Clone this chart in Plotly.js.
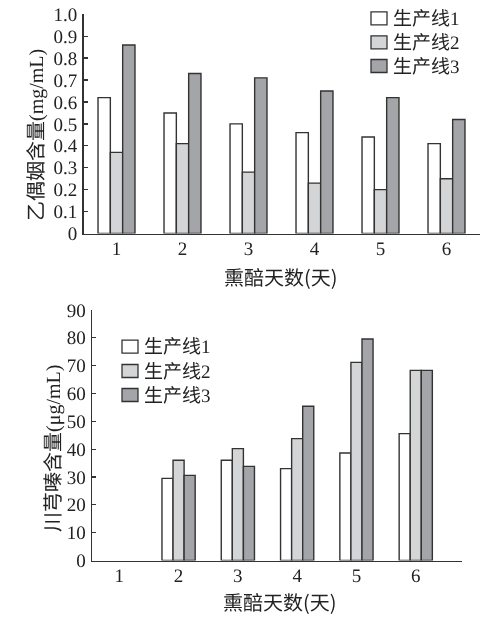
<!DOCTYPE html>
<html>
<head>
<meta charset="utf-8">
<script src="https://cdn.plot.ly/plotly-3.0.1.min.js"></script>
<style>
  html, body { margin: 0; padding: 0; background: #fff; }
  #chart { width: 504px; height: 620px; will-change: transform; }
  #chart text { -webkit-font-smoothing: antialiased; text-rendering: geometricPrecision; }
</style>
</head>
<body>
<div id="chart"></div>
<script>
// Fumigation days (x categories)
const days = [1, 2, 3, 4, 5, 6];
const dayLabels = ['1', '2', '3', '4', '5', '6'];
const seriesNames = ['生产线1', '生产线2', '生产线3'];

// Acetoin content, mg/mL
const acetoinLine1 = [0.62, 0.55, 0.50, 0.46, 0.44, 0.41];
const acetoinLine2 = [0.37, 0.41, 0.28, 0.23, 0.20, 0.25];
const acetoinLine3 = [0.86, 0.73, 0.71, 0.65, 0.62, 0.52];

// Tetramethylpyrazine content, µg/mL (none detected on day 1)
const tmpLine1 = [null, 29.5, 36.0, 33.0, 38.6, 45.6];
const tmpLine2 = [null, 36.0, 40.2, 43.8, 71.2, 68.3];
const tmpLine3 = [null, 30.6, 33.8, 55.4, 79.6, 68.3];

const fills = ['#ffffff', '#d3d5d7', '#a3a5a8'];
const edge = '#333333';
const FONT = '"Liberation Serif", "Noto Sans CJK SC", serif';
const CJK = '"Noto Sans CJK SC", sans-serif';
const ink = '#222222';

function barTrace(name, y, i, xa, ya) {
  return {
    type: 'bar', name: name, x: days, y: y,
    xaxis: xa, yaxis: ya,
    marker: { color: fills[i], line: { color: edge, width: 1.4 } },
    showlegend: false, hoverinfo: 'skip'
  };
}

const traces = [
  barTrace(seriesNames[0], acetoinLine1, 0, 'x', 'y'),
  barTrace(seriesNames[1], acetoinLine2, 1, 'x', 'y'),
  barTrace(seriesNames[2], acetoinLine3, 2, 'x', 'y'),
  barTrace(seriesNames[0], tmpLine1, 0, 'x2', 'y2'),
  barTrace(seriesNames[1], tmpLine2, 1, 'x2', 'y2'),
  barTrace(seriesNames[2], tmpLine3, 2, 'x2', 'y2')
];

const W = 504, H = 620;
const px = v => v / W;          // horizontal pixel -> paper
const py = v => 1 - v / H;      // vertical pixel (from top) -> paper

const xCommon = {
  type: 'linear', tickmode: 'array', tickvals: days, ticktext: dayLabels,
  showline: true, linecolor: edge, linewidth: 1.5,
  ticks: '', showgrid: false, zeroline: false, ticklabelstandoff: -3,
  tickfont: { family: FONT, size: 19, color: ink }
};
const yCommon = {
  showline: true, linecolor: edge, linewidth: 1.5,
  ticks: 'inside', ticklen: 4, tickwidth: 1.3, tickcolor: edge,
  showgrid: false, zeroline: false, ticklabelstandoff: 1,
  tickfont: { family: FONT, size: 19, color: ink }
};

// Hand-built legends: a swatch box plus a label for each production line
const shapes = [];
const annotations = [];
function addLegend(boxLeft, rowCenters) {
  rowCenters.forEach((cy, i) => {
    shapes.push({
      type: 'rect', xref: 'paper', yref: 'paper',
      x0: px(boxLeft), x1: px(boxLeft + 16),
      y0: py(cy + 6.5), y1: py(cy - 6.5),
      fillcolor: fills[i], line: { color: edge, width: 1.3 }
    });
    annotations.push({
      text: seriesNames[i], xref: 'paper', yref: 'paper',
      x: px(boxLeft + 20), y: py(cy), xanchor: 'left', yanchor: 'middle',
      showarrow: false, font: { family: FONT, size: 19, color: ink }
    });
  });
}
addLegend(371, [18.3, 42.3, 66]);
addLegend(122, [346.7, 371, 395]);

// Axis titles: CJK in a sans face, units in the serif face
const serif = s => '<span style="font-family:Liberation Serif">' + s + '</span>';
function title(text, x, y, angle) {
  annotations.push({
    text: text, textangle: angle, xref: 'paper', yref: 'paper',
    x: px(x), y: py(y), xanchor: 'center', yanchor: 'middle', showarrow: false,
    font: { family: CJK, size: 20, color: ink }
  });
}
title('乙偶姻含量' + serif('(mg/mL)'), 34, 135, -90);
title('熏醅天数(天)', 281, 276, 0);
title('川芎嗪含量' + serif('(μg/mL)'), 51, 449, -90);
title('熏醅天数(天)', 280, 601, 0);

const layout = {
  width: W, height: H,
  margin: { l: 0, r: 0, t: 0, b: 0 },
  paper_bgcolor: '#fff', plot_bgcolor: '#fff',
  barmode: 'group', bargap: 0.44, bargroupgap: 0,
  showlegend: false,
  xaxis: Object.assign({}, xCommon, {
    domain: [px(83.5), px(479.5)], range: [0.5, 6.5], anchor: 'y'
  }),
  yaxis: Object.assign({}, yCommon, {
    domain: [py(233.5), py(14.3)], range: [0, 1.0], anchor: 'x',
    tickvals: [0, 0.1, 0.2, 0.3, 0.4, 0.5, 0.6, 0.7, 0.8, 0.9, 1.0],
    ticktext: ['0', '0.1', '0.2', '0.3', '0.4', '0.5', '0.6', '0.7', '0.8', '0.9', '1.0']
  }),
  xaxis2: Object.assign({}, xCommon, {
    domain: [px(92), px(462)], range: [0.54, 6.78], anchor: 'y2'
  }),
  yaxis2: Object.assign({}, yCommon, {
    domain: [py(560.5), py(310)], range: [0, 90], anchor: 'x2',
    tickvals: [0, 10, 20, 30, 40, 50, 60, 70, 80, 90]
  }),
  shapes: shapes,
  annotations: annotations
};

Plotly.newPlot('chart', traces, layout, { staticPlot: true, displayModeBar: false });
</script>
</body>
</html>
